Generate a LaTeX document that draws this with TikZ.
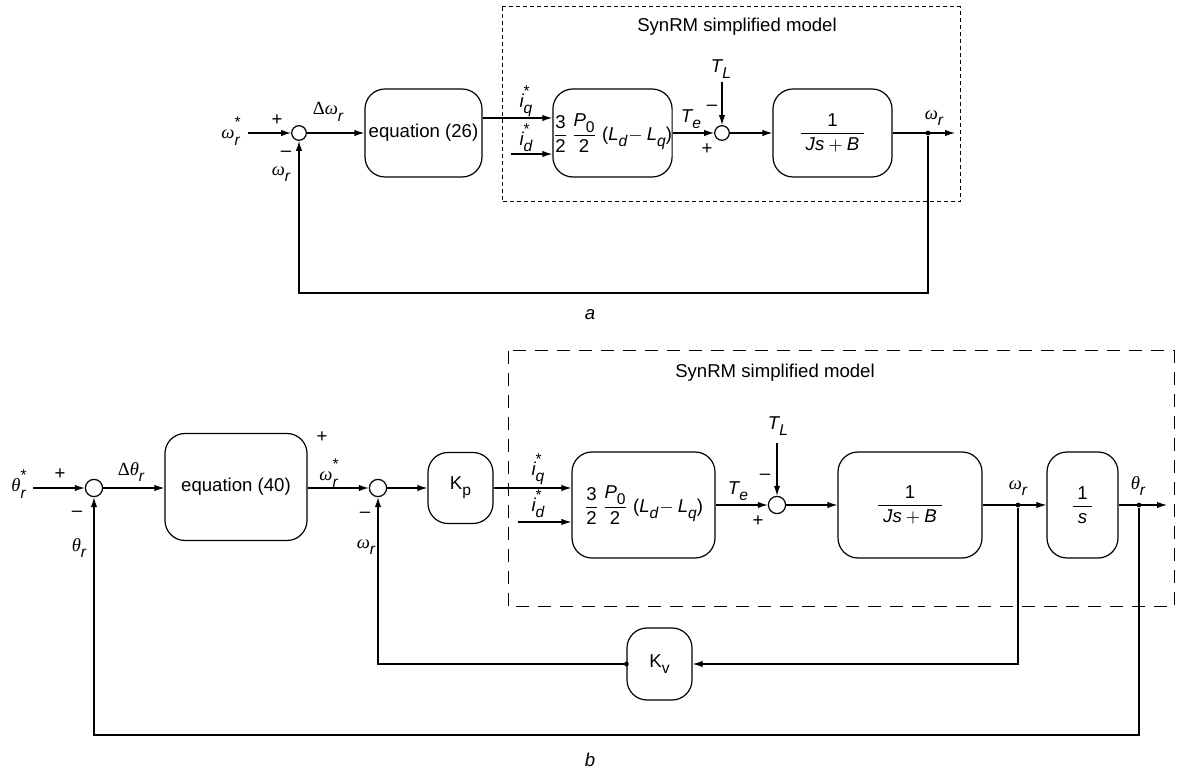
\documentclass[tikz,border=0pt]{standalone}
\usepackage{amsmath}
\usepackage{fontspec}
\setmainfont{Liberation Sans}
\newfontfamily\gkfont{Liberation Serif}
\usetikzlibrary{arrows.meta}
% base, subscript, superscript (text mode)
\newcommand\xss[3]{{#1}{\fontsize{7.8pt}{8pt}\selectfont
  \setbox0=\hbox{#3}\setbox2=\hbox{#2}%
  \dimen0=\wd0 \ifdim\wd2>\dimen0 \dimen0=\wd2\fi
  \makebox[\dimen0][l]{\rlap{\raisebox{5.5pt}{\box0}}\raisebox{-3.2pt}{\box2}}}}
\newcommand\xom{{\gkfont\itshape ω}}
\newcommand\xth{{\gkfont\itshape θ}}
\newcommand\xDel{{\gkfont Δ}}
\newcommand\xgain{$\dfrac{\text{3}}{\text{2}}\,\dfrac{\text{\xss{\itshape P}{\upshape 0}{}}}{\text{2}}\;\text{(\xss{\itshape L}{\itshape d}{}}\!-\text{\xss{\itshape L}{\itshape q}{})}$}
\newcommand\xplant{$\dfrac{\text{1}}{\;\text{\itshape Js}+\text{\itshape B}\;}$}
\tikzset{
  blk/.style={draw, rounded corners=10pt, inner sep=0pt, line width=0.6pt},
  suma/.style={draw, circle, minimum size=7.3pt, inner sep=0pt, line width=0.6pt},
  sumb/.style={draw, circle, minimum size=8.6pt, inner sep=0pt, line width=0.6pt},
  dotn/.style={fill, circle, minimum size=2.4pt, inner sep=0pt},
  arr/.style={-{Latex[length=5pt,width=3.2pt]}, line width=0.6pt},
  lbl/.style={inner sep=0pt},
  dasha/.style={line width=0.5pt, dash pattern=on 2pt off 1.5pt},
  dashb/.style={line width=0.5pt, dash pattern=on 6.5pt off 4.5pt}
}
\begin{document}
\begin{tikzpicture}[x=0.5pt, y=-0.5pt, font=\fontsize{9.3pt}{11pt}\selectfont]
\useasboundingbox (0,0) rectangle (1178,774);

%================ (a) ================
\draw[dasha] (502,7) rectangle (960,202);
\node[lbl] (tita) at (737,27) {SynRM simplified model};

\node[suma] (sa1) at (299,133) {};
\node[blk, minimum width=58.5pt, minimum height=44pt] (eq26) at (423.5,133) {equation (26)};
\node[blk, minimum width=59.5pt, minimum height=44pt] (ga) at (612.5,133) {\xgain};
\node[suma] (sa2) at (722,133) {};
\node[blk, minimum width=59.5pt, minimum height=44pt] (fa) at (832.5,133) {\xplant};
\node[dotn] (da) at (928,133) {};

\coordinate (ina) at (248,133);
\coordinate (ida) at (511,154);
\coordinate (tlaS) at (722,82);
\coordinate (outa) at (955,133);
\coordinate (ya) at (0,293);

\draw[arr] (ina) -- (sa1);
\draw[arr] (sa1) -- (eq26);
\draw[arr] ([yshift=7.5pt]eq26.east) -- ([yshift=7.5pt]ga.west);
\draw[arr] (ida) -- (ida -| ga.west);
\draw[arr] (ga) -- (sa2);
\draw[arr] (tlaS) -- (sa2);
\draw[arr] (sa2) -- (fa);
\draw[arr] (fa) -- (outa);
\draw[arr] (da) -- (da |- ya) -| (sa1);

\node[lbl] (la1) at (231,131) {\xss{\xom}{\itshape r}{*}};
\node[lbl] (la2) at (277,120) {+};
\node[lbl] (la3) at (286,154) {–};
\node[lbl] (la4) at (281,173) {\xss{\xom}{\itshape r}{}};
\node[lbl] (la5) at (328,112) {\xss{\xDel\xom}{\itshape r}{}};
\node[lbl] (la6) at (526,101) {\xss{\itshape i}{\itshape q}{*}};
\node[lbl] (la7) at (526,138) {\xss{\itshape i}{\itshape d}{*}};
\node[lbl] (la8) at (691,119) {\xss{\itshape T}{\itshape e}{}};
\node[lbl] (la9) at (707,149) {+};
\node[lbl] (la10) at (712,108) {–};
\node[lbl] (la11) at (721,69) {\xss{\itshape T}{\itshape L}{}};
\node[lbl] (la12) at (934,117) {\xss{\xom}{\itshape r}{}};
\node[lbl] (capa) at (590,315) {\itshape a};

%================ (b) ================
\draw[dashb] (508,351) rectangle (1174,607);
\node[lbl] (titb) at (775,373) {SynRM simplified model};

\node[sumb] (sb1) at (94,488) {};
\node[blk, minimum width=71pt, minimum height=53.5pt] (eq40) at (236,487) {equation (40)};
\node[sumb] (sb2) at (378,488) {};
\node[blk, minimum width=32.5pt, minimum height=35.5pt] (kp) at (460.5,488) {\xss{K}{p}{}};
\node[blk, minimum width=71.5pt, minimum height=53pt] (gb) at (643.5,505) {\xgain};
\node[sumb] (sb3) at (777,505) {};
\node[blk, minimum width=72pt, minimum height=53pt] (fb) at (910,505) {\xplant};
\node[blk, minimum width=35.5pt, minimum height=53pt] (sb) at (1082.5,505)
  {$\dfrac{\text{1}}{\;\text{\itshape s}\;}$};
\node[blk, minimum width=32.5pt, minimum height=36pt] (kv) at (659.5,664) {\xss{K}{v}{}};
\node[dotn] (dw) at (1018,505) {};
\node[dotn] (dth) at (1139,505) {};
\node[dotn] (dkv) at (kv.west) {};

\coordinate (inb) at (33,488);
\coordinate (idb) at (518,522);
\coordinate (tlbS) at (777,443);
\coordinate (outb) at (1167,505);
\coordinate (yb) at (0,735);

\draw[arr] (inb) -- (sb1);
\draw[arr] (sb1) -- (eq40.west |- sb1);
\draw[arr] (eq40.east |- sb2) -- (sb2);
\draw[arr] (sb2) -- (kp);
\draw[arr] (kp.east) -- (kp.east -| gb.west);
\draw[arr] (idb) -- (idb -| gb.west);
\draw[arr] (gb) -- (sb3);
\draw[arr] (tlbS) -- (sb3);
\draw[arr] (sb3) -- (fb);
\draw[arr] (fb) -- (sb);
\draw[arr] (sb) -- (outb);
\draw[arr] (dw) |- (kv);
\draw[arr] (dkv) -| (sb2);
\draw[arr] (dth) -- (dth |- yb) -| (sb1);

\node[lbl] (lb1) at (19,484) {\xss{\xth}{\itshape r}{*}};
\node[lbl] (lb2) at (60,474) {+};
\node[lbl] (lb3) at (77,514) {–};
\node[lbl] (lb4) at (79,548) {\xss{\xth}{\itshape r}{}};
\node[lbl] (lb5) at (131,472) {\xss{\xDel\xth}{\itshape r}{}};
\node[lbl] (lb6) at (322,437) {+};
\node[lbl] (lb7) at (329,473) {\xss{\xom}{\itshape r}{*}};
\node[lbl] (lb8) at (365,515) {–};
\node[lbl] (lb9) at (366,546) {\xss{\xom}{\itshape r}{}};
\node[lbl] (lb10) at (538,469) {\xss{\itshape i}{\itshape q}{*}};
\node[lbl] (lb11) at (538,504) {\xss{\itshape i}{\itshape d}{*}};
\node[lbl] (lb12) at (738,491) {\xss{\itshape T}{\itshape e}{}};
\node[lbl] (lb13) at (758,521) {+};
\node[lbl] (lb14) at (765,477) {–};
\node[lbl] (lb15) at (778,426) {\xss{\itshape T}{\itshape L}{}};
\node[lbl] (lb16) at (1018,487) {\xss{\xom}{\itshape r}{}};
\node[lbl] (lb17) at (1138,486) {\xss{\xth}{\itshape r}{}};
\node[lbl] (capb) at (590,760) {\itshape b};
\end{tikzpicture}
\end{document}
